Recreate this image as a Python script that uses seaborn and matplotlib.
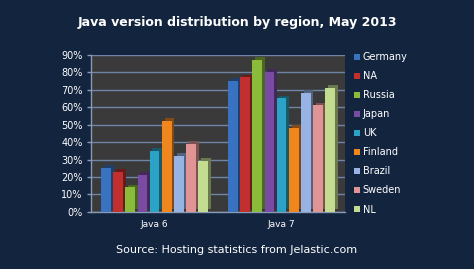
import matplotlib
matplotlib.use("Agg")
import matplotlib.pyplot as plt
import matplotlib.patheffects as pe
import seaborn as sns
import pandas as pd
import numpy as np

versions = ["Java 6", "Java 7"]
regions = ["Germany", "NA", "Russia", "Japan", "UK", "Finland", "Brazil", "Sweden", "NL"]
java6 = [25, 23, 14, 21, 35, 52, 32, 39, 29]
java7 = [75, 77, 87, 80, 65, 48, 68, 61, 71]
colors = ["#3a72c2", "#c22f2f", "#8bbb3a", "#7a4ba3", "#2aa3c6", "#f0871e", "#97b3e3", "#e09494", "#c3dc90"]
yticks = [0, 10, 20, 30, 40, 50, 60, 70, 80, 90]

rows = []
for r, a, b in zip(regions, java6, java7):
    rows.append({"version": versions[0], "region": r, "value": a})
    rows.append({"version": versions[1], "region": r, "value": b})
df = pd.DataFrame(rows)

bg = "#13243f"
sns.set_theme(style="dark")
plt.rcParams["font.family"] = ["DejaVu Sans"]

fig = plt.figure(figsize=(4.74, 2.69), dpi=100, facecolor=bg)
ax = fig.add_axes([0.192, 0.212, 0.536, 0.585])
ax.set_facecolor("#3a3a3a")

sns.barplot(data=df, x="version", y="value", hue="region", hue_order=regions,
            order=versions, palette=colors, width=0.86, saturation=1,
            edgecolor="none", ax=ax, zorder=3)

ax.set_ylim(0, 90)
ax.set_yticks(yticks)
ax.set_yticklabels([f"{v}%" for v in yticks], color="white", fontsize=7)
ax.yaxis.grid(True, color="#6f84a6", linewidth=1.0, zorder=0)
ax.xaxis.grid(False)
ax.set_xlim(-0.5, 1.5)
ax.set_xticks([0, 1])
ax.set_xticklabels(versions, color="white", fontsize=6.5)
ax.set_xticks([-0.5, 0.5, 1.5], minor=True)
ax.tick_params(axis="x", which="major", length=0, pad=6)
ax.tick_params(axis="x", which="minor", length=3, color="#8a9ab5", width=1, direction="out")
ax.tick_params(axis="y", length=3, color="#8a9ab5", width=1, direction="out", pad=3, left=True)
ax.set_xlabel("")
ax.set_ylabel("")
for s in ["top", "right"]:
    ax.spines[s].set_visible(False)
for s in ["left", "bottom"]:
    ax.spines[s].set_visible(True)
    ax.spines[s].set_color("#8a9ab5")
    ax.spines[s].set_linewidth(1)

leg = ax.legend(loc="upper left", bbox_to_anchor=(1.02, 1.04), frameon=False,
                fontsize=7, handlelength=0.6, handleheight=0.6, handletextpad=0.3,
                labelspacing=0.93, borderaxespad=0)
for t in leg.get_texts():
    t.set_color("white")

for p in ax.patches:
    w = p.get_width()
    p.set_x(p.get_x() + w * 0.1)
    p.set_width(w * 0.8)
    p.set_path_effects([pe.SimplePatchShadow(offset=(2, 2), shadow_rgbFace=None, alpha=1.0, rho=0.55),
                        pe.Normal()])

fig.text(0.5, 0.915, "Java version distribution by region, May 2013", color="white",
         fontsize=9, fontweight="bold", ha="center", va="center")
fig.text(0.5, 0.07, "Source: Hosting statistics from Jelastic.com", color="white",
         fontsize=8, ha="center", va="center")

fig.savefig("out.png", dpi=100, facecolor=bg)
